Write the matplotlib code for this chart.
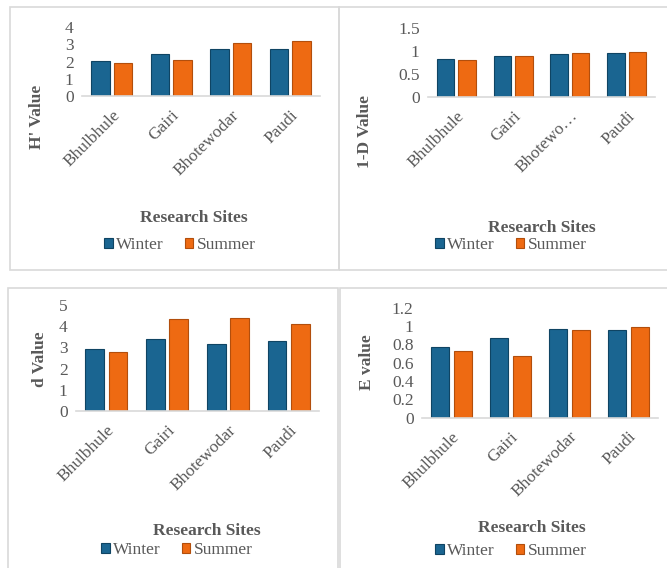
import matplotlib
matplotlib.use("Agg")
import matplotlib.pyplot as plt
from matplotlib.patches import Rectangle
import numpy as np

sites = ["Bhulbhule", "Gairi", "Bhotewodar", "Paudi"]
sites_short = ["Bhulbhule", "Gairi", "Bhotewo\u2026", "Paudi"]
seasons = ["Winter", "Summer"]

h_winter = [2.04, 2.44, 2.74, 2.74]
h_summer = [1.92, 2.08, 3.06, 3.16]
simpson_winter = [0.82, 0.89, 0.93, 0.96]
simpson_summer = [0.80, 0.89, 0.96, 0.98]
d_winter = [2.91, 3.40, 3.14, 3.32]
d_summer = [2.77, 4.34, 4.39, 4.10]
e_winter = [0.77, 0.87, 0.97, 0.96]
e_summer = [0.73, 0.67, 0.96, 0.99]

W, H = 667, 568
fig = plt.figure(figsize=(W / 100, H / 100), dpi=100)
plt.rcParams['font.family'] = ['Liberation Serif', 'DejaVu Serif']

C_W = '#1A6591'
C_S = '#EE6A12'
E_W = '#0F4463'
E_S = '#B24E0C'
GRAY = '#595959'
FRAME = '#D9D9D9'
FS = 12.5


def fx(x):
    return x / W


def fy(y):
    return 1 - y / H


def add_frame(x0, y0, x1, y1):
    fig.patches.append(Rectangle((fx(x0), fy(y1)), fx(x1) - fx(x0), fy(y0) - fy(y1),
                                 transform=fig.transFigure, fill=False,
                                 edgecolor=FRAME, linewidth=1.2))


def panel(box, winter, summer, labels, ymax, ystep, ylabel, ylab_xy, rs_xy, leg_xy, tickfmt):
    x0, ytop, x1, ybot = box
    ax = fig.add_axes([fx(x0), fy(ybot), fx(x1) - fx(x0), fy(ytop) - fy(ybot)])
    x = np.arange(len(labels))
    bw = 0.31
    off = 0.19
    ax.bar(x - off, winter, bw, color=C_W, edgecolor=E_W, linewidth=0.8, label=seasons[0])
    ax.bar(x + off, summer, bw, color=C_S, edgecolor=E_S, linewidth=0.8, label=seasons[1])
    ax.set_xlim(-0.5, len(labels) - 0.5)
    ax.set_ylim(0, ymax)
    ticks = np.arange(0, ymax + ystep / 2, ystep)
    ax.set_yticks(ticks)
    ax.set_yticklabels([tickfmt(t) for t in ticks])
    ax.set_xticks(x)
    ax.set_xticklabels(labels, rotation=45, ha='right', rotation_mode='anchor')
    for s in ['top', 'right', 'left']:
        ax.spines[s].set_visible(False)
    ax.spines['bottom'].set_color(FRAME)
    ax.spines['bottom'].set_linewidth(1.2)
    ax.tick_params(axis='both', length=0, labelsize=FS, labelcolor=GRAY)
    ax.tick_params(axis='x', pad=8)
    ax.tick_params(axis='y', pad=6)
    fig.text(fx(ylab_xy[0]), fy(ylab_xy[1]), ylabel, rotation=90, ha='center', va='center',
             fontsize=FS, fontweight='bold', color=GRAY)
    fig.text(fx(rs_xy[0]), fy(rs_xy[1]), "Research Sites", ha='center', va='center',
             fontsize=FS, fontweight='bold', color=GRAY)
    leg = fig.legend(*ax.get_legend_handles_labels(), loc='center',
                     bbox_to_anchor=(fx(leg_xy[0]), fy(leg_xy[1])), ncol=2, frameon=False,
                     fontsize=FS, handlelength=0.5, handleheight=0.5, handletextpad=0.2,
                     columnspacing=1.2, borderpad=0)
    for t in leg.get_texts():
        t.set_color(GRAY)
    return ax


def fmt_int(t):
    return f"{t:.0f}"


def fmt_g(t):
    return f"{t:g}"


add_frame(10, 7, 339, 270)
add_frame(339, 7, 675, 270)
add_frame(8, 288, 338, 575)
add_frame(340, 288, 675, 575)

panel((82, 27, 320, 96), h_winter, h_summer, sites, 4, 1, "H' Value",
      (37, 117), (194, 218), (180, 245), fmt_int)
panel((428, 28, 655, 97), simpson_winter, simpson_summer, sites_short, 1.5, 0.5, "1-D Value",
      (365, 132), (542, 228), (511, 245), fmt_g)
panel((76, 305, 319, 411), d_winter, d_summer, sites, 5, 1, "d Value",
      (40, 359), (207, 531), (177, 550), fmt_int)
panel((422, 307.7, 658, 417.7), e_winter, e_summer, sites, 1.2, 0.2, "E value",
      (367, 362), (532, 528), (511, 551), fmt_g)

fig.savefig("out.png", dpi=100, facecolor='white')
